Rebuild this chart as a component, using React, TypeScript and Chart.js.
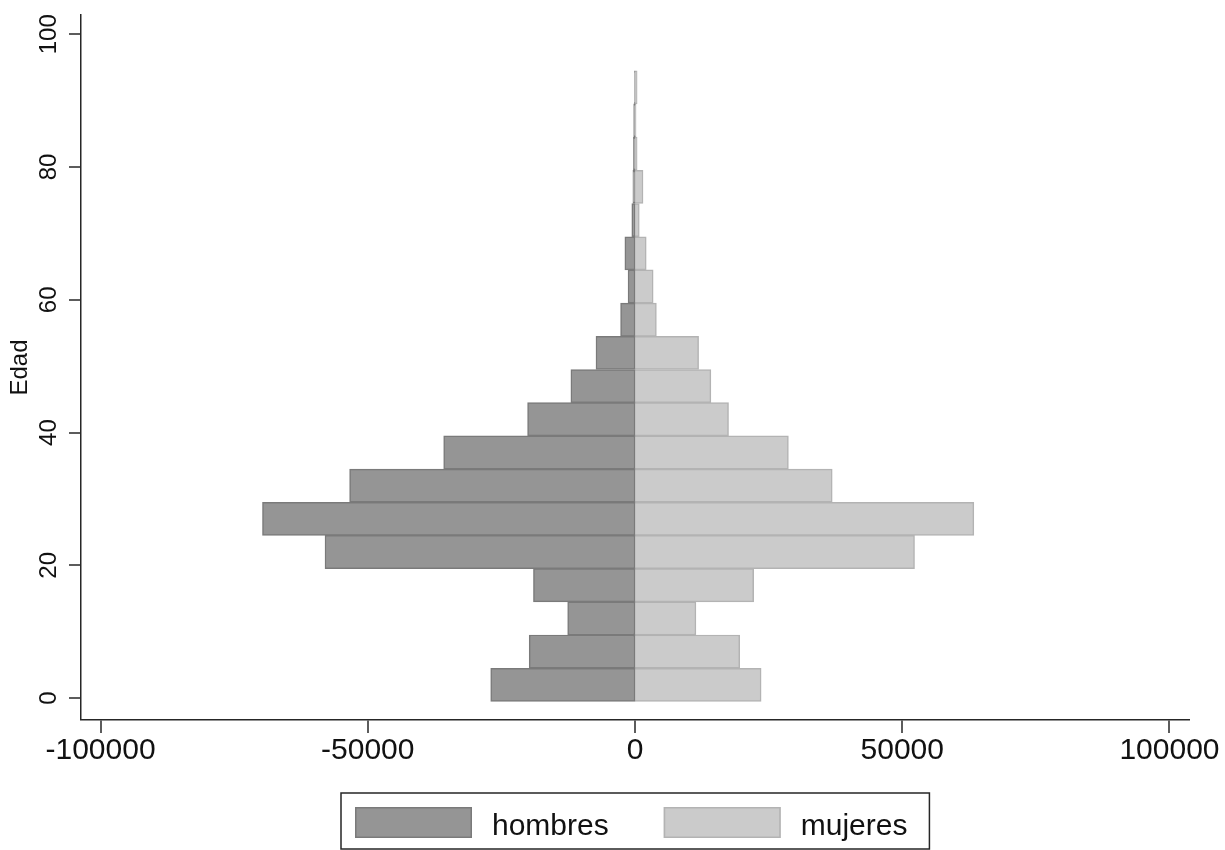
import React, { useEffect, useRef } from "react";
import { Chart, registerables } from "chart.js";

Chart.register(...registerables);

// Age groups (5-year bands), plotted at the band midpoint
const edadGrupo = [2, 7, 12, 17, 22, 27, 32, 37, 42, 47, 52, 57, 62, 67, 72, 77, 82, 87, 92];

// Population per age group
const hombres = [27000, 19800, 12600, 19000, 58000, 69700, 53400, 35800, 20100, 12000, 7300, 2700, 1300, 1900, 600, 400, 300, 250, 100];
const mujeres = [23600, 19600, 11400, 22200, 52300, 63400, 36900, 28700, 17500, 14200, 11900, 4000, 3400, 2100, 800, 1500, 400, 200, 400];

const etiquetas = ["hombres", "mujeres"];
const ticksX = [-100000, -50000, 0, 50000, 100000];
const ticksY = [0, 20, 40, 60, 80, 100];

const FONT = "'Liberation Sans', Arial, Helvetica, sans-serif";
const INK = "#111111";
const AXIS = "#262626";

const colores = {
  hombres: { fill: "#959595", stroke: "#7a7a7a" },
  mujeres: { fill: "#cbcbcb", stroke: "#b3b3b3" },
};

// Framed legend centred under the plot
const leyendaMarco = {
  id: "leyendaMarco",
  afterDraw(chart: any) {
    const ctx = chart.ctx as CanvasRenderingContext2D;
    const area = chart.chartArea;
    ctx.save();
    ctx.font = `30px ${FONT}`;
    const items = chart.data.datasets.map((ds: any) => ({
      label: ds.label,
      fill: ds.backgroundColor,
      stroke: ds.borderColor,
      w: ctx.measureText(ds.label).width,
    }));
    const padL = 14, sw = 117, sh = 31, gapT = 20, gapI = 55, padR = 22, h = 56;
    const total =
      padL +
      items.reduce((s: number, it: any, i: number) => s + sw + gapT + it.w + (i ? gapI : 0), 0) +
      padR;
    const cx = (area.left + area.right) / 2;
    const left = Math.round(cx - total / 2);
    const top = area.bottom + 73;
    ctx.strokeStyle = AXIS;
    ctx.lineWidth = 1.5;
    ctx.strokeRect(left, top, total, h);
    let x = left + padL;
    items.forEach((it: any, i: number) => {
      if (i) x += gapI;
      ctx.fillStyle = it.fill;
      ctx.fillRect(x, top + 14, sw, sh);
      ctx.strokeStyle = it.stroke;
      ctx.lineWidth = 1.5;
      ctx.strokeRect(x + 0.75, top + 14.75, sw - 1.5, sh - 1.5);
      x += sw + gapT;
      ctx.fillStyle = INK;
      ctx.textBaseline = "alphabetic";
      ctx.textAlign = "left";
      ctx.fillText(it.label, x, top + 42);
      x += it.w;
    });
    ctx.restore();
  },
};

// Axis with outward tick marks only (no grid lines inside the plot)
const ejeGrid = (tickLength: number) => ({
  display: true,
  offset: false,
  drawOnChartArea: false,
  drawTicks: true,
  tickLength,
  lineWidth: 0,
  tickWidth: 1.5,
  tickColor: AXIS,
  color: AXIS,
});

export default function App() {
  const ref = useRef<HTMLCanvasElement | null>(null);

  useEffect(() => {
    if (!ref.current) return;
    const chart = new Chart(ref.current, {
      type: "bar",
      data: {
        datasets: [
          {
            label: etiquetas[0],
            data: edadGrupo.map((y, i) => ({ x: -hombres[i], y })),
            backgroundColor: colores.hombres.fill,
            borderColor: colores.hombres.stroke,
            borderWidth: 1.5,
            borderSkipped: false,
          },
          {
            label: etiquetas[1],
            data: edadGrupo.map((y, i) => ({ x: mujeres[i], y })),
            backgroundColor: colores.mujeres.fill,
            borderColor: colores.mujeres.stroke,
            borderWidth: 1.5,
            borderSkipped: "start",
          },
        ],
      },
      options: {
        indexAxis: "y",
        responsive: false,
        animation: false,
        grouped: false,
        barPercentage: 1,
        categoryPercentage: 1,
        layout: { padding: { left: 0, right: 35, top: 15, bottom: 0 } },
        plugins: {
          legend: { display: false },
          tooltip: { enabled: false },
        },
        scales: {
          x: {
            type: "linear",
            min: -103657,
            max: 103843,
            afterBuildTicks: (s: any) => {
              s.ticks = ticksX.map((v) => ({ value: v }));
            },
            afterFit: (s: any) => {
              s.height = 130;
              s.paddingLeft = 0;
              s.paddingRight = 0;
            },
            ticks: {
              font: { family: FONT, size: 30 },
              color: INK,
              padding: 0,
              maxRotation: 0,
              minRotation: 0,
              callback: (v: any) => String(v),
            },
            grid: ejeGrid(13),
            border: { display: true, color: AXIS, width: 1.5 },
          },
          y: {
            type: "linear",
            position: "left",
            offset: false,
            min: -3.3,
            max: 102.9,
            afterBuildTicks: (s: any) => {
              s.ticks = ticksY.map((v) => ({ value: v }));
            },
            afterFit: (s: any) => {
              s.width = 81;
              s.paddingTop = 0;
              s.paddingBottom = 0;
            },
            ticks: {
              font: { family: FONT, size: 24 },
              color: INK,
              padding: 0,
              minRotation: 90,
              maxRotation: 90,
              crossAlign: "center",
              callback: (v: any) => String(v),
            },
            grid: ejeGrid(12),
            border: { display: true, color: AXIS, width: 1.5 },
            title: {
              display: true,
              text: "Edad",
              color: INK,
              font: { family: FONT, size: 24 },
              padding: { top: 6, bottom: 0 },
            },
          },
        },
      },
      plugins: [leyendaMarco],
    } as any);
    return () => chart.destroy();
  }, []);

  return (
    <div style={{ position: "fixed", left: 0, top: 0, width: 1225, height: 850, background: "#ffffff" }}>
      <canvas ref={ref} width={1225} height={850} style={{ display: "block" }} />
    </div>
  );
}
